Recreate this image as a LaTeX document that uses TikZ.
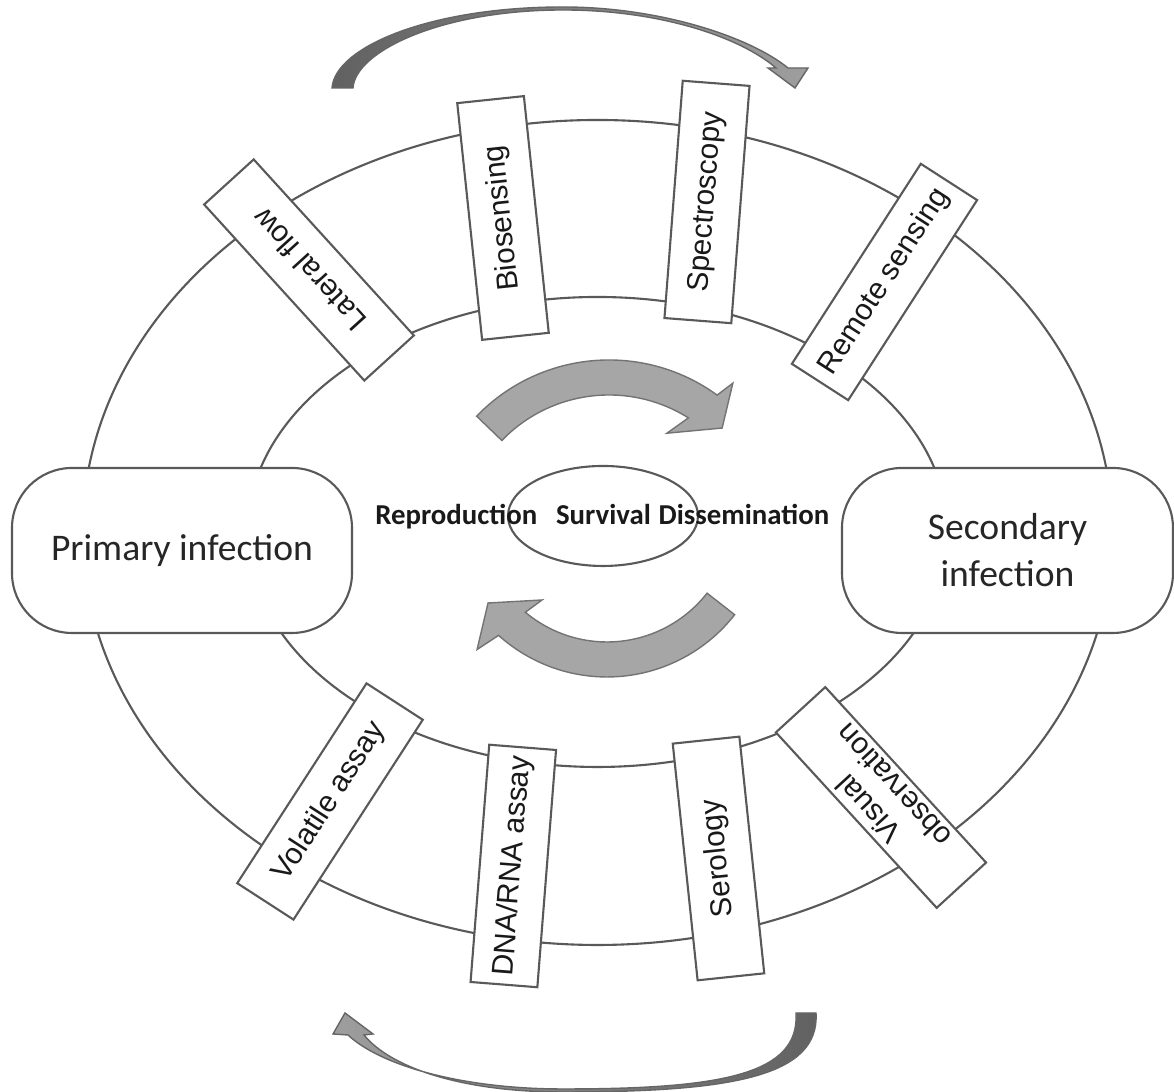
\documentclass[tikz,border=0pt]{standalone}
\usepackage{fontspec}
\setmainfont{Carlito}
\newfontfamily\boxfont{Liberation Sans}
\usetikzlibrary{shapes.geometric}

\tikzset{
  ring/.style={draw=black!65, line width=0.6pt},
  stage/.style={draw=black!65, line width=0.6pt, fill=white, rounded corners=0.6cm,
    minimum height=1.65cm, inner sep=0pt, align=center, text=black!85,
    font=\fontsize{10.7}{13.4}\selectfont},
  method/.style={draw=black!65, line width=0.6pt, fill=white, minimum width=2.38cm,
    minimum height=0.67cm, inner sep=0pt, align=center, text=black!90,
    font=\boxfont\fontsize{8.5}{9.8}\selectfont},
  phase/.style={inner sep=0pt, text=black!90, font=\bfseries\fontsize{8.2}{10}\selectfont},
  turn/.style={fill=black!35, draw=black!55, line width=0.4pt},
  sweep/.style={draw=black!60, line width=0.4pt}
}

\begin{document}
\begin{tikzpicture}
\useasboundingbox (0,0) rectangle (11.74,10.92);

% rings
\draw[ring] (5.975,5.595) ellipse [x radius=5.15, y radius=4.125];
\draw[ring] (5.975,5.60) ellipse [x radius=3.50, y radius=2.35];

% infection stages
\node[stage, minimum width=3.40cm] (primary) at (1.82,5.415) {Primary infection};
\node[stage, minimum width=3.31cm] (secondary) at (10.075,5.415) {Secondary\\infection};

% detection methods
\node[method, rotate=132.3] (lateral) at (3.09,8.22) {Lateral flow};
\node[method, rotate=96] (bio) at (5.03,8.74) {Biosensing};
\node[method, rotate=85.6] (spectro) at (7.07,8.90) {Spectroscopy};
\node[method, rotate=57.2] (remote) at (8.845,8.10) {Remote sensing};
\node[method, rotate=57.1] (volatile) at (3.30,2.905) {Volatile assay};
\node[method, rotate=85.5] (dna) at (5.133,2.26) {DNA/RNA assay};
\node[method, rotate=96] (sero) at (7.185,2.335) {Serology};
\node[method, rotate=132.5] (visual) at (8.81,2.945) {Visual\\observation};

% outer arrows
\shadedraw[sweep, left color=black!62, right color=black!38]
  (3.32,10.04) .. controls (3.35,10.45) and (4.3,10.85) .. (5.63,10.85)
  .. controls (6.6,10.85) and (7.5,10.55) .. (7.88,10.24)
  -- (8.08,10.24) -- (7.95,10.04) -- (7.68,10.24) -- (7.76,10.24)
  .. controls (7.4,10.55) and (6.6,10.82) .. (5.63,10.82)
  .. controls (4.4,10.82) and (3.55,10.4) .. (3.53,10.04) -- cycle;
\shadedraw[sweep, left color=black!38, right color=black!62]
  (7.96,0.79) -- (8.16,0.79)
  .. controls (8.2,0.15) and (7.3,0.0) .. (5.63,0.0)
  .. controls (4.6,0.0) and (3.9,0.25) .. (3.64,0.57)
  -- (3.73,0.58) -- (3.45,0.79) -- (3.33,0.58) -- (3.48,0.57)
  .. controls (3.8,0.27) and (4.6,0.03) .. (5.63,0.03)
  .. controls (7.2,0.03) and (8.0,0.17) .. (7.96,0.79) -- cycle;

% cycle arrows
\begin{scope}[shift={(6.09,5.48)}]
\draw[turn] (136:1.84) arc[start angle=136, end angle=54, radius=1.84]
  -- (52.4:2.03) -- (45.7:1.62) -- (62.4:1.25) -- (57.8:1.49)
  arc[start angle=57.8, end angle=136, radius=1.49] -- cycle;
\end{scope}
\begin{scope}[shift={(6.07,5.77)}]
\draw[turn] (-38:1.62) arc[start angle=-38, end angle=-132, radius=1.62]
  -- (-134:1.87) -- (-143.5:1.48) -- (-127.4:1.07) -- (-130:1.27)
  arc[start angle=-130, end angle=-38, radius=1.27] -- cycle;
\end{scope}

% core
\node[ring, ellipse, minimum width=1.9cm, minimum height=1.0cm, inner sep=0pt] (core) at (6.03,5.76) {};
\node[phase, anchor=base east] (repro) at (5.38,5.67) {Reproduction};
\node[phase, anchor=base] (surv) at (6.035,5.67) {Survival};
\node[phase, anchor=base west] (dissem) at (6.58,5.67) {Dissemination};
\end{tikzpicture}
\end{document}
